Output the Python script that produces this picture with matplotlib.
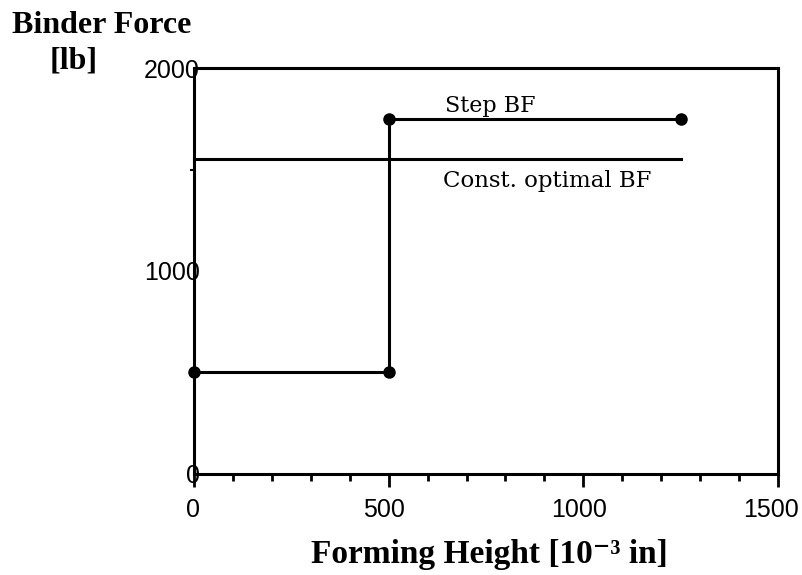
import matplotlib
matplotlib.use("Agg")
import matplotlib.pyplot as plt
from matplotlib.ticker import MultipleLocator, FixedLocator
from matplotlib.transforms import ScaledTranslation

step_x = [0, 500, 500, 1250]
step_y = [500, 500, 1750, 1750]
const_x = [0, 1250]
const_y = [1550, 1550]
x_ticks = [0, 500, 1000, 1500]
y_ticks = [0, 1000, 2000]
y_minor = [500, 1500]

fig = plt.figure(figsize=(8.03, 5.75), dpi=100)
ax = fig.add_axes([0.2416, 0.1757, 0.9689 - 0.2416, 0.8817 - 0.1757])

ax.plot(step_x, step_y, color='black', lw=2.2, marker='o', markersize=8, clip_on=False, zorder=3)
ax.plot(const_x, const_y, color='black', lw=2.2, clip_on=False, zorder=3)

ax.set_xlim(0, 1500)
ax.set_ylim(0, 2000)
ax.set_xticks(x_ticks)
ax.set_yticks(y_ticks)
ax.xaxis.set_minor_locator(MultipleLocator(100))
ax.yaxis.set_minor_locator(FixedLocator(y_minor))
for s in ax.spines.values():
    s.set_linewidth(2.2)

ax.tick_params(axis='x', which='major', direction='out', length=9, width=2, pad=8,
               labelsize=18, top=False)
ax.tick_params(axis='x', which='minor', direction='out', length=5, width=2, top=False)
ax.tick_params(axis='y', which='major', length=0, pad=-4, labelsize=18)
ax.tick_params(axis='y', which='minor', direction='out', length=3, width=1.5)
for lab in ax.get_xticklabels() + ax.get_yticklabels():
    lab.set_fontfamily('Liberation Sans')

# slight leftward drift of x tick labels as in the reference (keeps "1500" inside the figure)
shifts_px = [-1, -5, -4, -7]
for tick, dx in zip(ax.xaxis.get_major_ticks(), shifts_px):
    tick.label1.set_transform(tick.label1.get_transform()
                              + ScaledTranslation(dx / 100, 0, fig.dpi_scale_trans))

ax.text(760, 1783, 'Step BF', fontsize=16, family='DejaVu Serif', ha='center', va='baseline')
ax.text(907, 1414, 'Const. optimal BF', fontsize=16.5, family='DejaVu Serif', ha='center', va='baseline')

fig.text(0.015, 0.9426, 'Binder Force', fontsize=23, fontweight='bold', family='Liberation Serif',
         ha='left', va='baseline')
fig.text(0.0623, 0.8817, '[lb]', fontsize=23, fontweight='bold', family='Liberation Serif',
         ha='left', va='baseline')
fig.text(0.609, 0.0209, 'Forming Height [10\u207b\u00b3 in]', fontsize=24, fontweight='bold',
         family=['Liberation Serif', 'DejaVu Serif'], ha='center', va='baseline')

fig.savefig('out.png', dpi=100)
